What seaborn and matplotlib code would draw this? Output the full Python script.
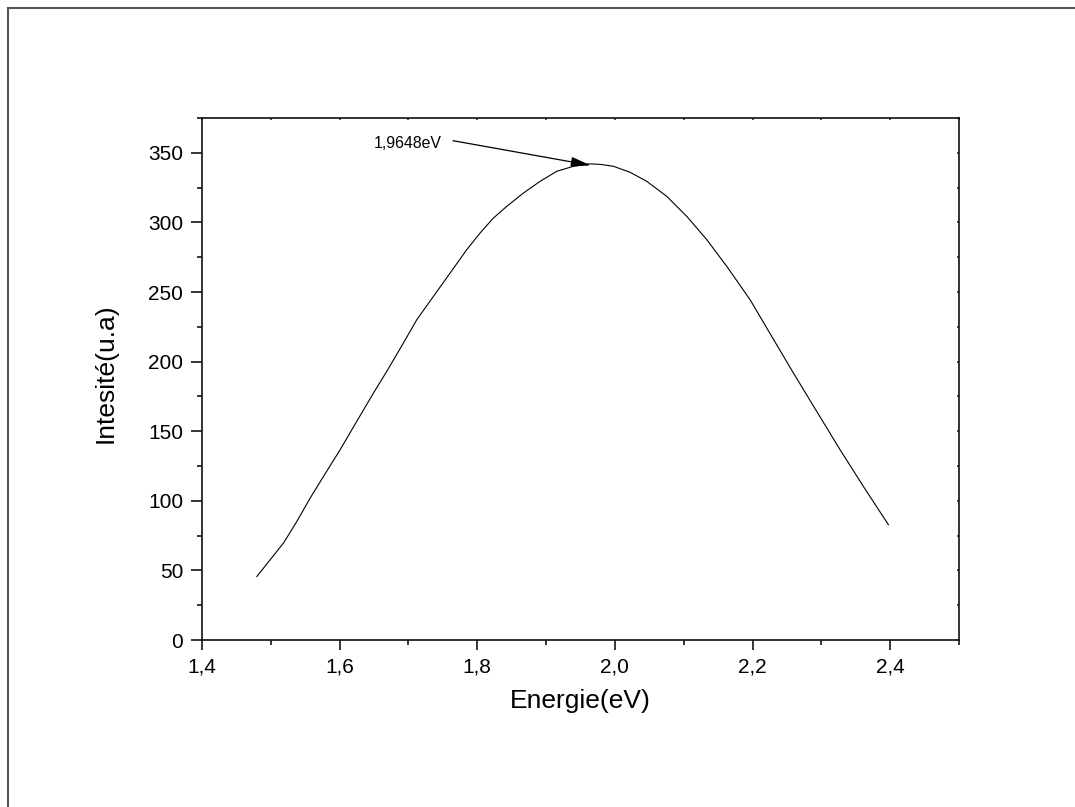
import matplotlib
matplotlib.use("Agg")
import matplotlib.pyplot as plt
from matplotlib.patches import Rectangle
from matplotlib.ticker import MultipleLocator, FuncFormatter
import pandas as pd
import seaborn as sns

# Photoluminescence spectrum: energy (eV) vs intensity (a.u.)
energie = [1.4795, 1.4988, 1.5182, 1.5376, 1.5570, 1.5764, 1.6006, 1.6248,
           1.6490, 1.6684, 1.6926, 1.7120, 1.7362, 1.7605, 1.7847, 1.8041,
           1.8234, 1.8428, 1.8671, 1.8913, 1.9155, 1.9397, 1.9590, 1.9648,
           1.9785, 1.9979, 2.0221, 2.0463, 2.0754, 2.1045, 2.1335, 2.1626,
           2.1965, 2.2256, 2.2595, 2.2934, 2.3273, 2.3612, 2.3976]
intensite = [45.5, 57.5, 69.5, 85.0, 101.8, 117.4, 136.6, 157.0,
             177.3, 192.9, 213.3, 230.0, 246.8, 263.6, 280.4, 292.4,
             303.1, 311.5, 321.1, 329.5, 336.7, 340.3, 342.0, 342.0,
             341.7, 340.3, 336.0, 329.5, 318.7, 304.3, 287.6, 268.4,
             244.4, 220.0, 191.7, 164.1, 136.6, 110.2, 82.7]

pic_energie = 1.9648
pic_intensite = 341.0
pic_label = "1,9648eV"

df = pd.DataFrame({"Energie": energie, "Intensite": intensite})

sns.set_theme(style="ticks")
plt.rcParams["font.family"] = ["Liberation Sans", "DejaVu Sans"]

fig = plt.figure(figsize=(10.75, 8.07), dpi=100)
fig.patch.set_facecolor("white")
ax = fig.add_axes([202 / 1075, 1 - 640 / 807, 757 / 1075, 522 / 807])

sns.lineplot(data=df, x="Energie", y="Intensite", ax=ax, color="black",
             linewidth=0.8, sort=False, estimator=None)

ax.set_xlim(1.4, 2.5)
ax.set_ylim(0, 375)

ax.xaxis.set_major_locator(MultipleLocator(0.2))
ax.xaxis.set_minor_locator(MultipleLocator(0.1))
ax.yaxis.set_major_locator(MultipleLocator(50))
ax.yaxis.set_minor_locator(MultipleLocator(25))
ax.xaxis.set_major_formatter(FuncFormatter(lambda v, p: f"{v:.1f}".replace(".", ",")))
ax.yaxis.set_major_formatter(FuncFormatter(lambda v, p: f"{v:.0f}"))

for side in ["left", "bottom", "top", "right"]:
    ax.spines[side].set_visible(True)
    ax.spines[side].set_linewidth(1.2)
    ax.spines[side].set_color("#111111")

ax.tick_params(axis="both", which="major", direction="out", labelsize=15,
               color="black", labelcolor="black", width=1.1, top=False, right=False)
ax.tick_params(axis="x", which="major", length=7.5, pad=5)
ax.tick_params(axis="y", which="major", length=8, pad=5.5)
ax.tick_params(axis="both", which="minor", direction="out", length=3.8,
               width=1.1, color="black", top=False, right=False)

# tiny inward ticks along the top and right frame
sec_x = ax.secondary_xaxis("top")
sec_x.xaxis.set_major_locator(MultipleLocator(0.1))
sec_x.tick_params(direction="in", length=1.5, width=1.1, labeltop=False)
sec_x.spines["top"].set_visible(False)
sec_y = ax.secondary_yaxis("right")
sec_y.yaxis.set_major_locator(MultipleLocator(25))
sec_y.tick_params(direction="in", length=1.5, width=1.1, labelright=False)
sec_y.spines["right"].set_visible(False)

ax.set_xlabel("Energie(eV)", fontsize=19, labelpad=9, color="black")
ax.set_ylabel("Intesité(u.a)", fontsize=19, labelpad=22, color="black")
ax.yaxis.label.set_y(0.512)

# peak marker: label plus arrow pointing at the maximum
ax.text(1.7488, 356.6, pic_label, fontsize=11.4, ha="right", va="center",
        color="black")
ax.annotate("", xy=(pic_energie, pic_intensite), xytext=(1.7648, 358.7),
            textcoords="data",
            arrowprops=dict(arrowstyle="-|>,head_length=1.0,head_width=0.25",
                            color="black", lw=0.9, shrinkA=0, shrinkB=0))

# outer page frame
fig.patches.append(Rectangle((8 / 1075, -0.2), 1.3, 1.2 - 8 / 807,
                             transform=fig.transFigure, fill=False,
                             edgecolor="#555555", linewidth=1.5))

fig.savefig("out.png", dpi=100, facecolor="white")
